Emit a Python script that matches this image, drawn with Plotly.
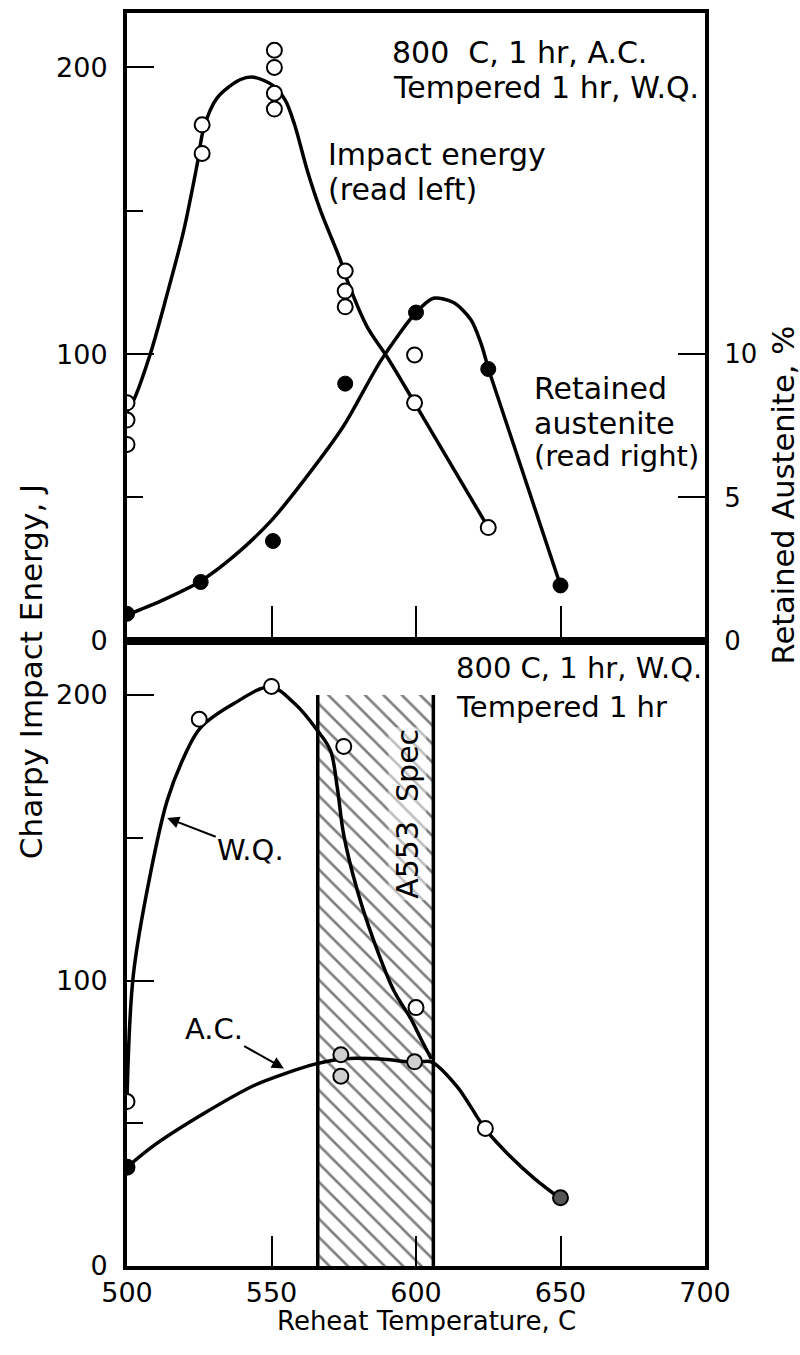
import plotly.graph_objects as go

# ---------------- DATA ----------------
# Top panel: 800 C, 1 hr, A.C. ; Tempered 1 hr, W.Q.
impact_pts_x = [500, 500, 500, 526, 526, 551, 551, 551, 551, 575.5, 575.5, 575.5, 599.5, 599.5, 625]
impact_pts_y = [83, 77, 68.5, 180, 170, 206, 200, 191, 185.5, 129, 122, 116.5, 99.7, 83, 39.5]

impact_curve_x = [500, 502.3, 508.1, 513.9, 519.6, 524.3, 526.6, 531.2, 539.3, 543.9, 550.8, 554.8, 558,
                  562.4, 567, 573.9, 576.2, 583.1, 590, 599.5]
impact_curve_y = [80, 83.9, 100.2, 121, 143, 166.3, 179, 189.4, 195.8, 196.6, 193.5, 188.5, 180,
                  164, 150, 132.6, 125.7, 109.5, 99, 83]
impact_tail_x = [599.5, 625]
impact_tail_y = [83, 39.5]

austenite_pts_x = [500, 525.5, 550.5, 575.5, 600, 625, 650]
austenite_pts_y = [0.94, 2.05, 3.48, 8.97, 11.45, 9.48, 1.93]

austenite_curve_x = [500, 512, 525, 537, 550, 562, 575, 588, 600, 606, 613, 619, 622.4, 625]
austenite_curve_y = [0.9, 1.4, 2.05, 2.95, 4.2, 5.7, 7.5, 9.8, 11.45, 11.95, 11.8, 11.2, 10.4, 9.5]
austenite_tail_x = [625, 650]
austenite_tail_y = [9.5, 1.93]

# Bottom panel: 800 C, 1 hr, W.Q. ; Tempered 1 hr
wq_pts_x = [500, 525, 550, 575, 600, 624]
wq_pts_y = [57.6, 191.5, 203, 182, 90.5, 48.2]
wq_curve_x = [500, 502.2, 508.1, 513.9, 519.6, 525.4, 537, 549.6, 558, 565.8, 570.4, 572.7, 575,
              579.7, 585.4, 592.4, 598.1, 601.6, 605.3]
wq_curve_y = [57.6, 102, 137.4, 163, 178, 188.5, 197, 202.8, 197, 187.7, 180.5, 168, 151,
              131.5, 113.9, 96.3, 86.8, 79.8, 72.5]

ac_pts_x = [500, 574, 574, 599.5, 650]
ac_pts_y = [34.6, 74, 66.5, 71.5, 23.9]
ac_curve_x = [500, 509, 526.7, 544.3, 554.9, 565.4, 575, 589, 599.3, 605.3, 614.5, 623.8, 632.3, 641.1, 649.5]
ac_curve_y = [34.6, 42, 53.5, 63.4, 67.5, 70.8, 72.6, 72.4, 71.3, 71.5, 62.5, 48.2, 38.7, 30.5, 23.9]

spec_low, spec_high, spec_top = 566, 606, 200

x_ticks = [500, 550, 600, 650, 700]
left_ticks = [0, 100, 200]
left_minor = [50, 150]
right_ticks = [0, 5, 10]

# ---------------- STYLE ----------------
FONT = "DejaVu Sans"
LW = 3.5
AXW = 4
ac_fill = ["black", "#cfcfcf", "#cfcfcf", "#cfcfcf", "#555555"]

fig = go.Figure()

# hatched A553 spec band
fig.add_trace(go.Bar(
    x=[(spec_low + spec_high) / 2], y=[spec_top], width=[spec_high - spec_low], base=0,
    marker=dict(color="white", line=dict(width=0),
                pattern=dict(shape="\\", fgcolor="black", bgcolor="white", size=13, solidity=0.2)),
    xaxis="x", yaxis="y", showlegend=False, hoverinfo="skip"))

line_style = dict(color="black", width=LW)
fig.add_trace(go.Scatter(x=wq_curve_x, y=wq_curve_y, mode="lines", line=dict(**line_style, shape="spline", smoothing=1),
                         xaxis="x", yaxis="y", showlegend=False))
fig.add_trace(go.Scatter(x=ac_curve_x, y=ac_curve_y, mode="lines", line=dict(**line_style, shape="spline", smoothing=0.8),
                         xaxis="x", yaxis="y", showlegend=False))
fig.add_trace(go.Scatter(x=wq_pts_x, y=wq_pts_y, mode="markers",
                         marker=dict(symbol="circle", size=15, color="white", line=dict(color="black", width=2)),
                         xaxis="x", yaxis="y", showlegend=False))
fig.add_trace(go.Scatter(x=ac_pts_x, y=ac_pts_y, mode="markers",
                         marker=dict(symbol="circle", size=15, color=ac_fill, line=dict(color="black", width=2)),
                         xaxis="x", yaxis="y", showlegend=False))

# top panel
fig.add_trace(go.Scatter(x=impact_curve_x, y=impact_curve_y, mode="lines", line=dict(**line_style, shape="spline", smoothing=0.9),
                         xaxis="x2", yaxis="y2", showlegend=False))
fig.add_trace(go.Scatter(x=impact_tail_x, y=impact_tail_y, mode="lines", line=line_style,
                         xaxis="x2", yaxis="y2", showlegend=False))
fig.add_trace(go.Scatter(x=austenite_curve_x, y=austenite_curve_y, mode="lines", line=dict(**line_style, shape="spline", smoothing=0.8),
                         xaxis="x2", yaxis="y3", showlegend=False))
fig.add_trace(go.Scatter(x=austenite_tail_x, y=austenite_tail_y, mode="lines", line=line_style,
                         xaxis="x2", yaxis="y3", showlegend=False))
fig.add_trace(go.Scatter(x=impact_pts_x, y=impact_pts_y, mode="markers",
                         marker=dict(symbol="circle", size=15, color="white", line=dict(color="black", width=2)),
                         xaxis="x2", yaxis="y2", showlegend=False))
fig.add_trace(go.Scatter(x=austenite_pts_x, y=austenite_pts_y, mode="markers",
                         marker=dict(symbol="circle", size=15, color="black", line=dict(color="black", width=1)),
                         xaxis="x2", yaxis="y3", showlegend=False))

# spec band edges
for xv in (spec_low, spec_high):
    fig.add_shape(type="line", x0=xv, x1=xv, y0=0, y1=spec_top, xref="x", yref="y",
                  line=dict(color="black", width=LW))

axis_common = dict(showline=True, linecolor="black", linewidth=AXW, showgrid=False, zeroline=False,
                   ticks="inside", tickcolor="black", tickwidth=2, tickfont=dict(size=27, color="black"))

fig.update_layout(
    width=800, height=1355,
    margin=dict(l=127, r=95, t=9, b=89),
    paper_bgcolor="white", plot_bgcolor="white",
    font=dict(family=FONT, color="black"),
    bargap=0,
    xaxis=dict(**axis_common, domain=[0, 1], anchor="y", range=[500, 700], mirror=True,
               tickvals=x_ticks, ticklen=30, ticklabelstandoff=0),
    yaxis=dict(**axis_common, domain=[0, 0.499], anchor="x", range=[0, 219], mirror=True,
               tickvals=left_ticks, ticklen=27, ticklabelstandoff=10,
               minor=dict(tickvals=left_minor, ticks="inside", ticklen=16, tickwidth=2, tickcolor="black", showgrid=False)),
    xaxis2=dict(**axis_common, domain=[0, 1], anchor="y2", range=[500, 700], mirror=True,
                tickvals=x_ticks[1:4], ticklen=35, showticklabels=False),
    yaxis2=dict(**axis_common, domain=[0.499, 1], anchor="x2", range=[0, 219], mirror=True,
                tickvals=left_ticks, ticklen=27, ticklabelstandoff=10,
                minor=dict(tickvals=left_minor, ticks="inside", ticklen=16, tickwidth=2, tickcolor="black", showgrid=False)),
    yaxis3=dict(**axis_common, overlaying="y2", side="right", anchor="x2", range=[0, 21.9],
                tickvals=right_ticks, ticklen=27, ticklabelstandoff=10),
)
fig.update_layout(yaxis3_tickfont_size=26)

T = 30
ann = []
def txt(text, x, y, xref, yref, size=T, xanchor="left", angle=0, **kw):
    ann.append(dict(text=text, x=x, y=y, xref=xref, yref=yref, showarrow=False, xanchor=xanchor,
                    yanchor="middle", textangle=angle, font=dict(size=size, family=FONT, color="black"), **kw))

# top panel texts
txt("800  C, 1 hr, A.C.", 590.9, 205.1, "x2", "y2")
txt("Tempered 1 hr, W.Q.", 591.3, 192.9, "x2", "y2")
txt("Impact energy", 568.7, 169.7, "x2", "y2")
txt("(read left)", 568.7, 157.6, "x2", "y2")
txt("Retained", 640, 88, "x2", "y2")
txt("austenite", 640, 75.8, "x2", "y2")
txt("(read right)", 640, 64.3, "x2", "y2", size=29)
# bottom panel texts
txt("800 C, 1 hr, W.Q.", 613, 209.5, "x", "y", size=29)
txt("Tempered 1 hr", 613, 195.8, "x", "y", size=29)
txt("A553  Spec", 597, 158.5, "x", "y", size=30, xanchor="center", angle=-90, bgcolor="rgba(255,255,255,0.5)")
# axis titles
txt("Charpy Impact Energy, J", -0.166, 0.474, "paper", "paper", size=31, xanchor="center", angle=-90)
txt("Retained Austenite, %", 1.135, 0.615, "paper", "paper", size=30.5, xanchor="center", angle=-90)
txt("Reheat Temperature, C", 0.519, -0.044, "paper", "paper", size=26, xanchor="center")

# arrow labels
ann.append(dict(text="W.Q.", x=513.9, y=156.9, ax=542.8, ay=145.6, xref="x", yref="y", axref="x", ayref="y",
                showarrow=True, arrowhead=2, arrowsize=1.2, arrowwidth=2, arrowcolor="black",
                font=dict(size=29, family=FONT, color="black")))
ann.append(dict(text="A.C.", x=554.3, y=69.2, ax=530, ay=83, xref="x", yref="y", axref="x", ayref="y",
                showarrow=True, arrowhead=2, arrowsize=1.2, arrowwidth=2, arrowcolor="black",
                font=dict(size=29, family=FONT, color="black")))

fig.update_layout(annotations=ann)
fig.write_html("out.html", config={"displayModeBar": False},
               post_script="document.body.style.margin='0';document.body.style.padding='0';")
